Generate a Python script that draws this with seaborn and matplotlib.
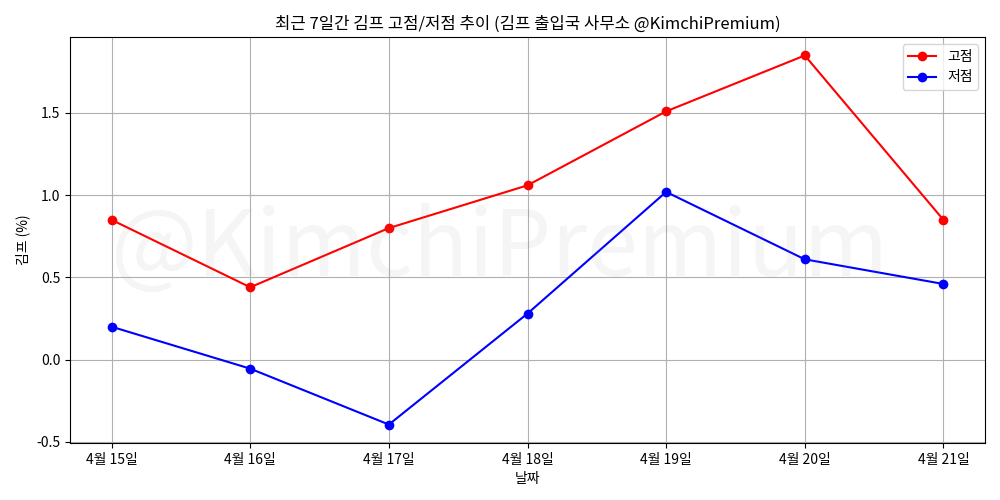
import pandas as pd
import matplotlib.pyplot as plt
import seaborn as sns

# 최근 7일 김프 데이터
dates = ["4월 15일", "4월 16일", "4월 17일", "4월 18일", "4월 19일", "4월 20일", "4월 21일"]
high = [0.85, 0.44, 0.80, 1.06, 1.51, 1.85, 0.85]
low = [0.20, -0.055, -0.395, 0.28, 1.02, 0.61, 0.46]

plt.rcParams['font.family'] = ['Noto Sans CJK KR', 'DejaVu Sans']
plt.rcParams['axes.unicode_minus'] = False

df = pd.DataFrame({"날짜": dates, "고점": high, "저점": low})

fig, ax = plt.subplots(figsize=(10, 5), dpi=100)
sns.lineplot(data=df, x="날짜", y="고점", marker='o', markersize=7, markeredgewidth=0,
             color='red', label="고점", ax=ax, sort=False)
sns.lineplot(data=df, x="날짜", y="저점", marker='o', markersize=7, markeredgewidth=0,
             color='blue', label="저점", ax=ax, sort=False)

# 워터마크 (그림 가운데)
fig.text(0.5, 0.5, "@KimchiPremium", fontsize=66,
         color='gray', alpha=0.08, ha='center', va='center')

ax.set_title("최근 7일간 김프 고점/저점 추이 (김프 출입국 사무소 @KimchiPremium)")
ax.set_xlabel("날짜")
ax.set_ylabel("김프 (%)")
ax.grid(True)
ax.legend(loc="upper right")
fig.subplots_adjust(left=0.07, right=0.985, top=0.926, bottom=0.114)
plt.savefig("out.png")
